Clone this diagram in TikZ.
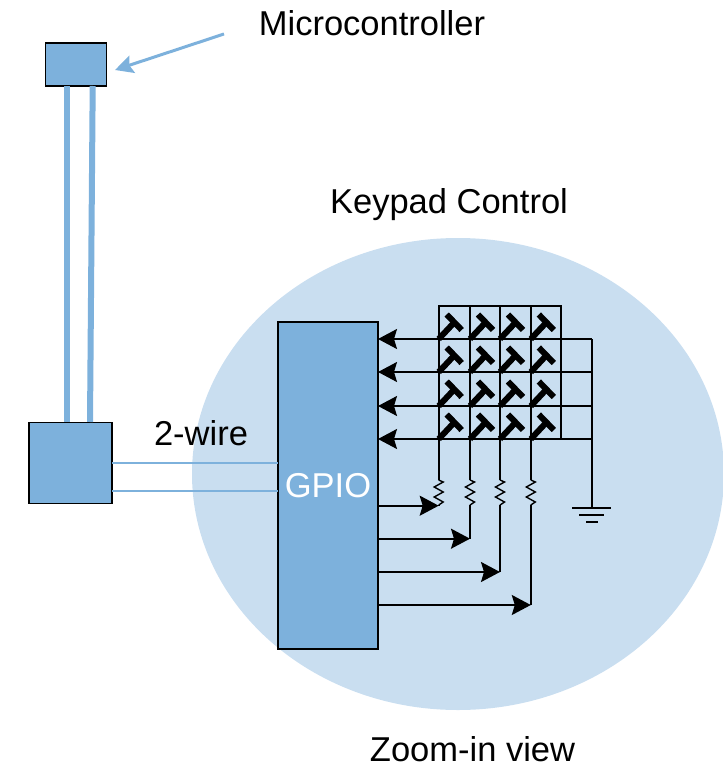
\documentclass[tikz,border=0pt]{standalone}
\usepackage{fontspec}
\setmainfont{Liberation Sans}
\usetikzlibrary{arrows.meta,positioning}

\definecolor{boxblue}{HTML}{7DB1DC}
\definecolor{zoomblue}{HTML}{C9DEF0}

\begin{document}
\begin{tikzpicture}[
        x=1pt, y=-1pt,
        box/.style={draw=black, line width=1.8pt, fill=boxblue, inner sep=0pt, outer sep=0pt},
        label/.style={font=\fontsize{34.5}{34.5}\selectfont, anchor=base, inner sep=0pt},
        bus/.style={draw=boxblue, line width=6pt},
        twowire/.style={draw=boxblue, line width=2pt},
        pointer/.style={draw=boxblue, line width=3pt, -{Stealth[length=18pt,width=18pt,inset=3pt]}},
        wire/.style={draw=black, line width=1.8pt},
        arr/.style={wire, -{Stealth[length=19pt,width=20pt,inset=3pt]}},
        keysw/.style={line width=6pt, line cap=butt},
        switchkey/.pic={
            \draw[keysw] (0,0) -- (15.5,-16.5);
            \draw[keysw] (8,-24.5) -- (23,-9);
        },
        resistor/.pic={
            \draw[wire, line width=1.4pt, line join=miter] (0,0) -- (4.5,2) -- (-4.5,7) -- (4.5,12) -- (-4.5,17) -- (4.5,22) -- (0,25);
        },
    ]
    \useasboundingbox (0,0) rectangle (722,767);

    % Zoom-in background
    \fill[zoomblue] (458,474) ellipse [x radius=266, y radius=236];

    % Boxes
    \node[box, minimum width=61pt, minimum height=43pt]  (mcu)    at (76,64.5)   {};
    \node[box, minimum width=83pt, minimum height=81pt]  (bridge) at (70.5,463)  {};
    \node[box, minimum width=100pt, minimum height=327pt] (gpio)  at (328,485.5) {};

    % Labels
    \node[label] (mculabel)  at (372,36)  {Microcontroller};
    \node[label] (keylabel)  at (449,213) {Keypad Control};
    \node[label] (wirelabel) at (201,445) {2-wire};
    \node[label, text=white] (gpiolabel) at (328,497) {GPIO};
    \node[label] (zoomlabel) at (472.5,761) {Zoom-in view};

    % Microcontroller pointer
    \coordinate (ptrstart) at (224,34);
    \coordinate (ptrend)   at (115,70);
    \draw[pointer] (ptrstart) -- (ptrend);

    % Thick bus between the boxes
    \coordinate (busatop) at (67.3,86);
    \coordinate (busbtop) at (92.7,86);
    \coordinate (busabot) at (67.3,422);
    \coordinate (busbbot) at (90,422);
    \draw[bus] (busatop) -- (busabot);
    \draw[bus] (busbtop) -- (busbbot);

    % 2-wire link
    \coordinate (linka) at (112,462.5);
    \coordinate (linkb) at (112,490.5);
    \draw[twowire] (linka) -- (gpio.west |- linka);
    \draw[twowire] (linkb) -- (gpio.west |- linkb);

    % Key matrix corners
    \foreach \c/\xc in {1/438.7,2/470,3/500,4/530.8,5/561.3}
        \foreach \r/\yr in {0/305.7,1/339,2/372,3/406,4/439}
            \coordinate (g-\c-\r) at (\xc,\yr);

    % Key matrix lines
    \draw[wire] (g-1-0) rectangle (g-5-4);
    \foreach \c in {2,3,4}
        \draw[wire] (g-\c-0) -- (g-\c-4);

    % Keys
    \foreach \c in {1,2,3,4}
        \foreach \r in {1,2,3,4}
            \pic at (g-\c-\r) {switchkey};

    % Rows: back to GPIO and out to ground
    \coordinate (gndtop) at (591.7,339);
    \coordinate (gnd)    at (591.7,508);
    \foreach \r in {1,2,3,4} {
        \draw[arr] (g-5-\r) -- (gpio.east |- g-5-\r);
        \draw[wire] (g-5-\r) -- (gndtop |- g-5-\r);
    }
    \draw[wire] (gndtop) -- (gnd);

    % Ground symbol
    \coordinate (gnda) at (572,508);
    \coordinate (gndb) at (611,508);
    \coordinate (gndc) at (579,515);
    \coordinate (gndd) at (604,515);
    \coordinate (gnde) at (586,522);
    \coordinate (gndf) at (598,522);
    \draw[wire] (gnda) -- (gndb);
    \draw[wire] (gndc) -- (gndd);
    \draw[wire] (gnde) -- (gndf);

    % Columns with pull resistors
    \foreach \c/\yo in {1/505.7,2/538.7,3/572,4/605} {
        \coordinate (rtop-\c) at (g-\c-4 |- 0,480);
        \coordinate (rbot-\c) at (g-\c-4 |- 0,505);
        \coordinate (out-\c)  at (g-\c-4 |- 0,\yo);
        \draw[wire] (g-\c-4) -- (rtop-\c);
        \pic at (rtop-\c) {resistor};
        \draw[wire] (rbot-\c) -- (out-\c);
        \draw[arr] (gpio.east |- out-\c) -- (out-\c);
    }
\end{tikzpicture}
\end{document}
